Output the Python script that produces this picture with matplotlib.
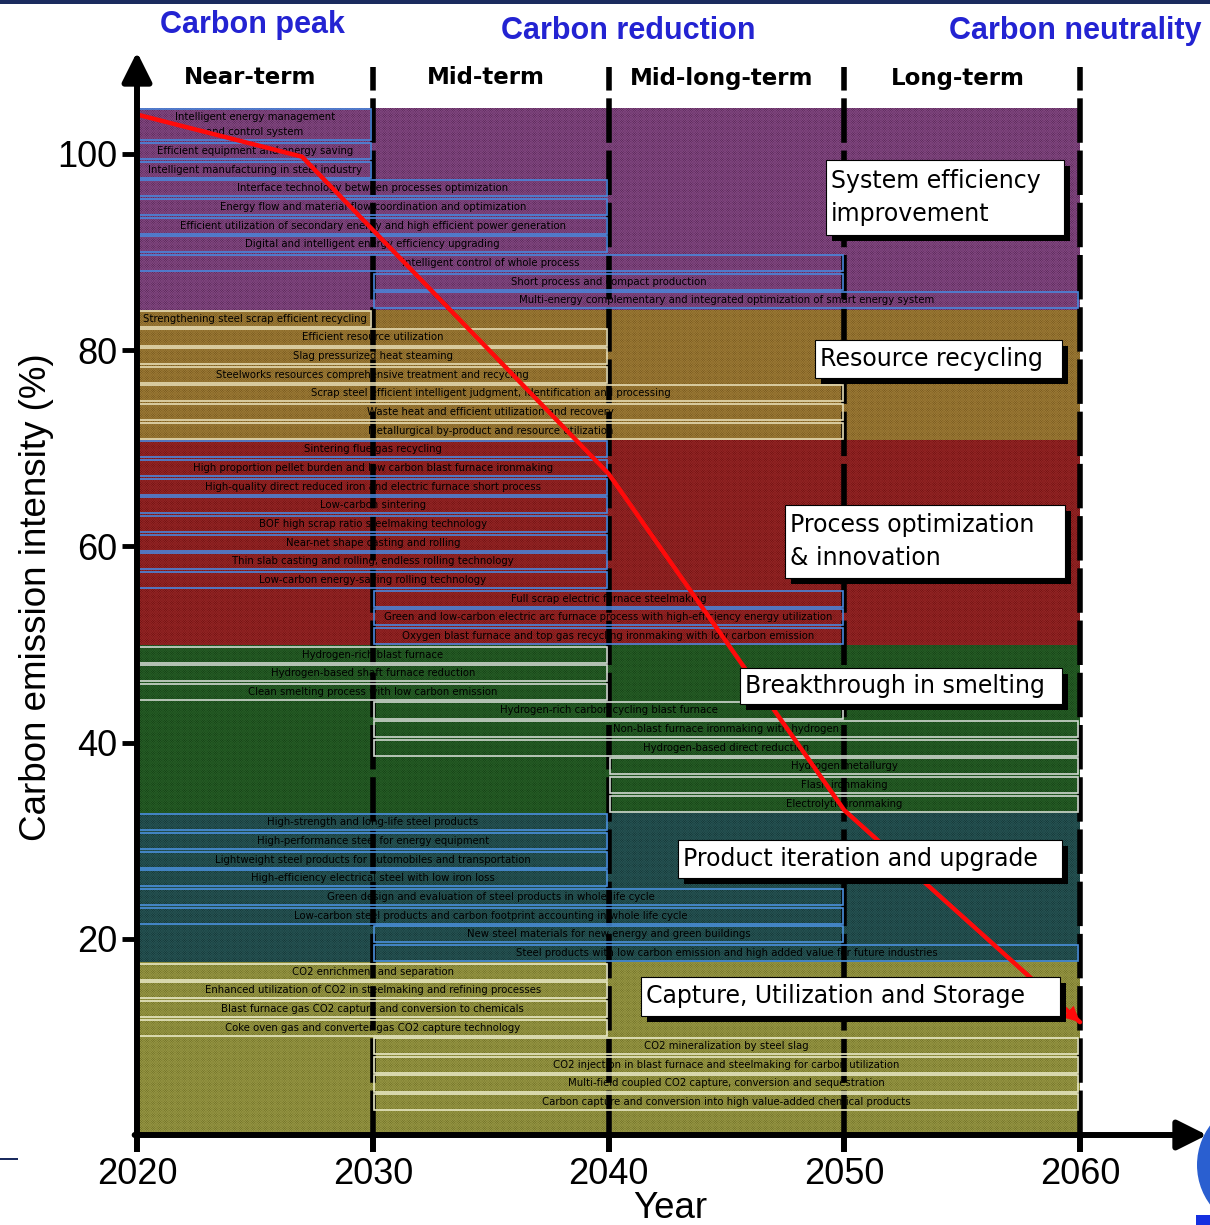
import matplotlib
matplotlib.use("Agg")
import matplotlib.pyplot as plt
from matplotlib.patches import Rectangle, Circle

plt.rcParams['font.family'] = ['Liberation Sans', 'DejaVu Sans']
plt.rcParams['hatch.linewidth'] = 0.5

# ---------------- data ----------------
years = [2020, 2027, 2040, 2050, 2060]
intensity = [104.0, 99.7, 67.4, 33.1, 11.5]
x_ticks = [2020, 2030, 2040, 2050, 2060]
y_ticks = [20, 40, 60, 80, 100]
stage_names = ["Near-term", "Mid-term", "Mid-long-term", "Long-term"]
goal_names = ["Carbon peak", "Carbon reduction", "Carbon neutrality"]

efficiency_items = [
    ("Intelligent energy management\nand control system", 2020, 2030),
    ("Efficient equipment and energy saving", 2020, 2030),
    ("Intelligent manufacturing in steel industry", 2020, 2030),
    ("Interface technology between processes optimization", 2020, 2040),
    ("Energy flow and material flow coordination and optimization", 2020, 2040),
    ("Efficient utilization of secondary energy and high efficient power generation", 2020, 2040),
    ("Digital and intelligent energy efficiency upgrading", 2020, 2040),
    ("Intelligent control of whole process", 2020, 2050),
    ("Short process and compact production", 2030, 2050),
    ("Multi-energy complementary and integrated optimization of smart energy system", 2030, 2060),
]
recycling_items = [
    ("Strengthening steel scrap efficient recycling", 2020, 2030),
    ("Efficient resource utilization", 2020, 2040),
    ("Slag pressurized heat steaming", 2020, 2040),
    ("Steelworks resources comprehensive treatment and recycling", 2020, 2040),
    ("Scrap steel efficient intelligent judgment, identification and processing", 2020, 2050),
    ("Waste heat and efficient utilization and recovery", 2020, 2050),
    ("Metallurgical by-product and resource utilization", 2020, 2050),
]
process_items = [
    ("Sintering flue gas recycling", 2020, 2040),
    ("High proportion pellet burden and low carbon blast furnace ironmaking", 2020, 2040),
    ("High-quality direct reduced iron and electric furnace short process", 2020, 2040),
    ("Low-carbon sintering", 2020, 2040),
    ("BOF high scrap ratio steelmaking technology", 2020, 2040),
    ("Near-net shape casting and rolling", 2020, 2040),
    ("Thin slab casting and rolling, endless rolling technology", 2020, 2040),
    ("Low-carbon energy-saving rolling technology", 2020, 2040),
    ("Full scrap electric furnace steelmaking", 2030, 2050),
    ("Green and low-carbon electric arc furnace process with high-efficiency energy utilization", 2030, 2050),
    ("Oxygen blast furnace and top gas recycling ironmaking with low carbon emission", 2030, 2050),
]
smelting_items = [
    ("Hydrogen-rich blast furnace", 2020, 2040),
    ("Hydrogen-based shaft furnace reduction", 2020, 2040),
    ("Clean smelting process with low carbon emission", 2020, 2040),
    ("Hydrogen-rich carbon cycling blast furnace", 2030, 2050),
    ("Non-blast furnace ironmaking with hydrogen", 2030, 2060),
    ("Hydrogen-based direct reduction", 2030, 2060),
    ("Hydrogen metallurgy", 2040, 2060),
    ("Flash ironmaking", 2040, 2060),
    ("Electrolytic ironmaking", 2040, 2060),
]
product_items = [
    ("High-strength and long-life steel products", 2020, 2040),
    ("High-performance steel for energy equipment", 2020, 2040),
    ("Lightweight steel products for automobiles and transportation", 2020, 2040),
    ("High-efficiency electrical steel with low iron loss", 2020, 2040),
    ("Green design and evaluation of steel products in whole life cycle", 2020, 2050),
    ("Low-carbon steel products and carbon footprint accounting in whole life cycle", 2020, 2050),
    ("New steel materials for new energy and green buildings", 2030, 2050),
    ("Steel products with low carbon emission and high added value for future industries", 2030, 2060),
]
ccus_items = [
    ("CO2 enrichment and separation", 2020, 2040),
    ("Enhanced utilization of CO2 in steelmaking and refining processes", 2020, 2040),
    ("Blast furnace gas CO2 capture and conversion to chemicals", 2020, 2040),
    ("Coke oven gas and converter gas CO2 capture technology", 2020, 2040),
    ("CO2 mineralization by steel slag", 2030, 2060),
    ("CO2 injection in blast furnace and steelmaking for carbon utilization", 2030, 2060),
    ("Multi-field coupled CO2 capture, conversion and sequestration", 2030, 2060),
    ("Carbon capture and conversion into high value-added chemical products", 2030, 2060),
]

band_names = ["System efficiency\nimprovement", "Resource recycling",
              "Process optimization\n& innovation", "Breakthrough in smelting",
              "Product iteration and upgrade", "Capture, Utilization and Storage"]
band_items = [efficiency_items, recycling_items, process_items,
              smelting_items, product_items, ccus_items]

# ---------------- styles ----------------
W, H = 1210, 1225
PXY = 23.575      # pixels per year
PXU = 9.8125      # pixels per percent
band_base = ['#542452', '#72541c', '#6c0f0f', '#133c13', '#133232', '#6c6c24']
band_hatch = ['#80467f', '#9a7834', '#922424', '#255c25', '#255252', '#949442']
box_edge = ['#4a86dc', '#e6dcb4', '#4a86dc', '#d0d8d0', '#4a90dc', '#e8e8c4']
# label box geometry (x0, x1, y0, y1) in data units
label_boxes = [
    (2049.23, 2059.32, 91.72, 99.36),
    (2048.76, 2059.24, 77.15, 81.02),
    (2047.49, 2059.36, 56.76, 64.20),
    (2045.58, 2059.24, 43.92, 47.59),
    (2042.95, 2059.24, 26.19, 30.06),
    (2041.38, 2059.15, 12.13, 16.10),
]

fig = plt.figure(figsize=(W / 100, H / 100), dpi=100)
ax = fig.add_axes([137 / W, 90 / H, 1073 / W, 1085 / H])
ax.set_xlim(2020, 2020 + 1073 / PXY)
ax.set_ylim(0, 1085 / PXU)
for s in ax.spines.values():
    s.set_visible(False)

ROW0 = (1135 - 151) / PXU
PITCH = 18.65 / PXU
BOXH = 0.86 * PITCH
TOP = 104.7

# ---------------- bands and row boxes ----------------
k = 0
band_top = TOP
for bi, items in enumerate(band_items):
    nrows = sum(1 for it in items if '\n' not in it[0])
    last_k = k + nrows - 1
    band_bottom = max(ROW0 - (last_k + 0.5) * PITCH, 0)
    if bi == len(band_items) - 1:
        band_bottom = 0
    ax.add_patch(Rectangle((2020, band_bottom), 40, band_top - band_bottom,
                           facecolor=band_base[bi], edgecolor=band_hatch[bi],
                           linewidth=0, hatch='x' * 14, zorder=1))
    for label, start, end in items:
        if '\n' in label:
            yc = ROW0 + 1.43 * PITCH
            h = 1.68 * PITCH
        else:
            yc = ROW0 - k * PITCH
            h = BOXH
            k += 1
        ax.add_patch(Rectangle((start + 0.07, yc - h / 2), end - start - 0.14, h,
                               facecolor='none', edgecolor=box_edge[bi],
                               linewidth=1.2, zorder=4))
        ax.text((start + end) / 2, yc, label, ha='center', va='center',
                fontsize=7.3, color='black', zorder=5, linespacing=1.6,
                family=['DejaVu Sans'])
    band_top = band_bottom

# ---------------- dashed stage lines ----------------
for x in x_ticks[1:]:
    ax.plot([x, x], [0, (1135 - 67) / PXU], color='black', lw=4,
            linestyle=(0, (8, 1.4)), zorder=3, solid_capstyle='butt',
            dash_capstyle='butt')

# ---------------- axis arrows ----------------
ax.annotate('', xy=(2020, (1135 - 52) / PXU), xytext=(2020, 0),
            arrowprops=dict(arrowstyle='-|>,head_length=0.9,head_width=0.45',
                            lw=4.3, color='black', mutation_scale=20,
                            shrinkA=0, shrinkB=0), zorder=7,
            annotation_clip=False)
ax.annotate('', xy=(2020 + 1070 / PXY, 0), xytext=(2019.9, 0),
            arrowprops=dict(arrowstyle='-|>,head_length=0.9,head_width=0.45',
                            lw=4.3, color='black', mutation_scale=20,
                            shrinkA=0, shrinkB=0), zorder=7,
            annotation_clip=False)

ax.set_xticks(x_ticks)
ax.set_xticklabels([str(v) for v in x_ticks])
ax.set_yticks(y_ticks)
ax.set_yticklabels([str(v) for v in y_ticks])
ax.tick_params(axis='x', length=12, width=4.3, direction='out', pad=4,
               labelsize=26, colors='black')
ax.tick_params(axis='y', length=11, width=3.5, direction='out', pad=3,
               labelsize=26, colors='black')

# ---------------- red trend line ----------------
ax.plot(years, intensity, color='#ff0a0a', lw=3.2, zorder=6,
        solid_joinstyle='round', solid_capstyle='round')
fx = years[-1] - 0.06 * (years[-1] - years[-2])
fy = intensity[-1] - 0.06 * (intensity[-1] - intensity[-2])
ax.annotate('', xy=(years[-1], intensity[-1]), xytext=(fx, fy),
            arrowprops=dict(arrowstyle='-|>,head_length=0.8,head_width=0.4',
                            color='#ff0a0a', lw=0.1, mutation_scale=14,
                            shrinkA=0, shrinkB=0), zorder=6)

# ---------------- label boxes ----------------
dx, dy = 6 / PXY, 6 / PXU
for name, (x0, x1, y0, y1) in zip(band_names, label_boxes):
    ax.add_patch(Rectangle((x0 + dx, y0 - dy), x1 - x0, y1 - y0,
                           facecolor='black', edgecolor='none', zorder=8))
    ax.add_patch(Rectangle((x0, y0), x1 - x0, y1 - y0,
                           facecolor='white', edgecolor='black', lw=0.8, zorder=9))
    ax.text(x0 + 0.2, (y0 + y1) / 2, name, ha='left', va='center',
            fontsize=17, family=['DejaVu Sans'], linespacing=1.45, zorder=10)

# ---------------- stage and goal labels ----------------
for i, nm in enumerate(stage_names):
    xc = (x_ticks[i] + x_ticks[i + 1]) / 2 - 0.2
    ax.text(xc, (1135 - 78) / PXU, nm, ha='center', va='center',
            fontsize=16.5, fontweight='bold', family=['DejaVu Sans'], zorder=10)

goal_x = [252, 628, 1075]
goal_y = [25, 31, 31]
for nm, gx, gy in zip(goal_names, goal_x, goal_y):
    fig.text(gx / W, 1 - gy / H, nm, ha='center', va='center', fontsize=22,
             fontweight='bold', color='#2323d2')

fig.text(37 / W, 1 - 597 / H, "Carbon emission intensity (%)", rotation=90,
         ha='center', va='center', fontsize=26.5)
fig.text(670 / W, 1 - 1208 / H, "Year", ha='center', va='center', fontsize=26.5)

# ---------------- slide decorations ----------------
fig.patches.append(Rectangle((0, 1 - 4 / H), 1, 4 / H, transform=fig.transFigure,
                             facecolor='#1b2b5e', edgecolor='none'))
fig.patches.append(Rectangle((0, 1 - 1160 / H), 18 / W, 2 / H, transform=fig.transFigure,
                             facecolor='#1b2b5e', edgecolor='none'))
fig.patches.append(Circle((1262 / W, 1 - 1165 / H), 65 / W, transform=fig.transFigure,
                          facecolor='#2a5fd0', edgecolor='none'))
fig.patches.append(Rectangle((1196 / W, 0), 14 / W, 10 / H, transform=fig.transFigure,
                             facecolor='#1530e0', edgecolor='none'))

fig.savefig("out.png", dpi=100)
